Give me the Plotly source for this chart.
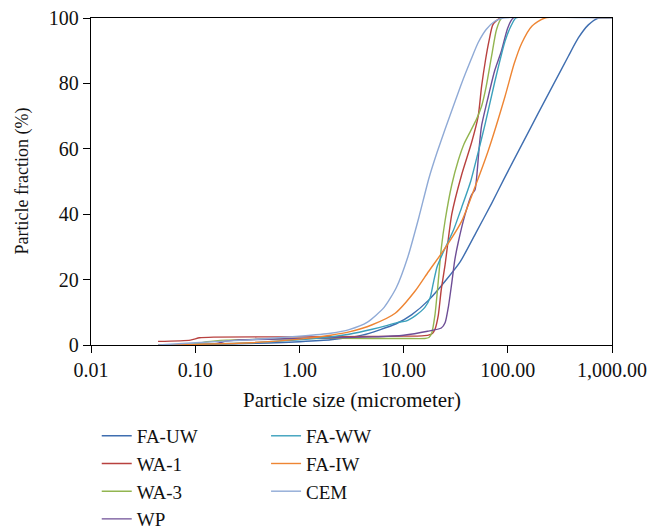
import plotly.graph_objects as go

# ---- data ----
fa_uw_x = [0.044, 0.2, 0.5, 1.0, 2.0, 4.0, 8.5, 12, 17.5, 25, 35, 50, 70, 91, 136, 196, 284, 381, 475, 593, 740, 1000]
fa_uw_y = [0, 0.3, 0.6, 1.0, 1.6, 3.0, 6.5, 9.3, 13.8, 19.5, 25.5, 34.6, 43.3, 50.5, 61.2, 70.9, 80.6, 88.3, 93.9, 97.9, 100, 100]

wa1_x = [0.044, 0.09, 0.11, 0.15, 1.0, 5.0, 10, 15, 17.3, 19, 20, 21.5, 23, 25, 29, 36, 45, 52, 56, 61, 66, 72, 85, 1000]
wa1_y = [1.1, 1.5, 2.2, 2.4, 2.5, 2.6, 2.7, 2.8, 3.0, 3.6, 4.8, 9, 17, 24.5, 40, 52, 62, 70, 79, 87, 93, 98, 100, 100]

wa3_x = [0.044, 0.1, 0.13, 0.2, 0.5, 1, 5, 10, 16, 17.5, 18.6, 20, 21.5, 23, 25, 29, 33.5, 38, 44, 50, 56, 62, 70, 78, 88, 1000]
wa3_y = [0, 0.3, 1.0, 1.5, 1.8, 2.0, 2.0, 2.0, 2.0, 2.3, 3.6, 9.2, 19.4, 29.6, 38, 49, 56.5, 61.5, 65.5, 69, 73, 79, 88.5, 96.5, 100, 100]

wp_x = [0.044, 0.15, 0.2, 0.25, 1, 5, 10, 17, 23, 25, 27, 29, 31, 33.5, 38.8, 45, 48.5, 50.5, 53, 56, 65, 75, 87, 100, 113, 1000]
wp_y = [0, 0.3, 1.2, 1.5, 2.0, 2.5, 3.0, 4.2, 5.2, 6.8, 12, 19, 26, 31.5, 39.8, 46, 47.5, 52, 60, 67, 76, 84, 90, 97, 100, 100]

fa_ww_x = [0.044, 0.1, 0.3, 1.0, 2.0, 3.0, 5.0, 7.0, 9.0, 10.5, 13, 16, 18, 19.3, 21, 25, 30, 36, 44, 52, 60, 75, 94, 109, 120, 1000]
fa_ww_y = [0, 0.2, 0.6, 1.6, 2.5, 3.3, 4.8, 6.0, 7.0, 7.3, 9.0, 11.5, 14.5, 19, 24, 29.6, 35, 42, 50, 59, 67, 80.5, 92.9, 98, 100, 100]

fa_iw_x = [0.044, 0.1, 0.3, 1.0, 2.0, 3.0, 5.0, 8.3, 12.9, 17.3, 25, 36, 48, 65, 94, 115, 136, 170, 227, 1000]
fa_iw_y = [0, 0.2, 0.6, 1.8, 3.0, 4.0, 6.2, 9.7, 16.5, 22.4, 29.6, 37.8, 48, 59.5, 76, 86, 92.3, 97.5, 100, 100]

cem_x = [0.044, 0.1, 0.3, 1.0, 2.0, 3.0, 4.5, 6.5, 8.5, 11, 14, 17.5, 21, 25, 30, 36, 44, 52, 62, 75, 90, 1000]
cem_y = [0, 0.7, 1.5, 2.7, 3.6, 4.7, 7, 11.5, 17.5, 27, 39, 51, 59, 66, 73, 80, 87, 92.5, 96.5, 99, 100, 100]

x_tickvals = [0.01, 0.1, 1, 10, 100, 1000]
x_ticktext = ["0.01", "0.10", "1.00", "10.00", "100.00", "1,000.00"]
y_tickvals = [0, 20, 40, 60, 80, 100]

series = [
    ("FA-UW", fa_uw_x, fa_uw_y, "#3F6EB0", "legend"),
    ("WA-1", wa1_x, wa1_y, "#B8413F", "legend"),
    ("WA-3", wa3_x, wa3_y, "#92B550", "legend"),
    ("WP", wp_x, wp_y, "#6E4E96", "legend"),
    ("FA-WW", fa_ww_x, fa_ww_y, "#3BA0BC", "legend2"),
    ("FA-IW", fa_iw_x, fa_iw_y, "#EE8533", "legend2"),
    ("CEM", cem_x, cem_y, "#8FAAD6", "legend2"),
]

FONT = "Liberation Serif, Times New Roman, serif"

fig = go.Figure()
for name, xs, ys, color, lg in series:
    fig.add_trace(go.Scatter(
        x=xs, y=ys, mode="lines", name=name, legend=lg,
        line=dict(color=color, width=1.4, shape="spline", smoothing=0.6),
    ))

axis_common = dict(
    showline=True, linecolor="black", linewidth=1.3, mirror=True,
    ticks="outside", ticklen=7, tickcolor="black", tickwidth=1.2,
    showgrid=False, zeroline=False, ticklabeloverflow="allow",
    tickfont=dict(family=FONT, size=20, color="#111"),
)

# page body has an 8px margin, so the figure is sized/offset to land on the window
fig.update_layout(
    width=657, height=524,
    margin=dict(l=83, r=53, t=10, b=187, autoexpand=False),
    paper_bgcolor="white", plot_bgcolor="white",
    font=dict(family=FONT, size=19, color="#111"),
    xaxis=dict(type="log", range=[-2, 3], tickvals=x_tickvals, ticktext=x_ticktext, **axis_common),
    yaxis=dict(range=[0, 100], tickvals=y_tickvals, **axis_common),
    annotations=[
        dict(text="Particle size (micrometer)", xref="paper", yref="paper", x=0.5, y=0,
             xanchor="center", yanchor="middle", yshift=-55, showarrow=False,
             font=dict(family=FONT, size=21, color="#111")),
        dict(text="Particle fraction (%)", xref="paper", yref="paper", x=0, y=0.5,
             xanchor="center", yanchor="middle", xshift=-69, textangle=-90, showarrow=False,
             font=dict(family=FONT, size=18, color="#111")),
    ],
    legend=dict(x=0.011, y=-0.22, xanchor="left", yanchor="top", orientation="v",
                font=dict(family=FONT, size=19), tracegroupgap=0, bgcolor="rgba(0,0,0,0)"),
    legend2=dict(x=0.336, y=-0.22, xanchor="left", yanchor="top", orientation="v",
                 font=dict(family=FONT, size=19), tracegroupgap=0, bgcolor="rgba(0,0,0,0)"),
    showlegend=True,
)

fig.write_html("out.html")
